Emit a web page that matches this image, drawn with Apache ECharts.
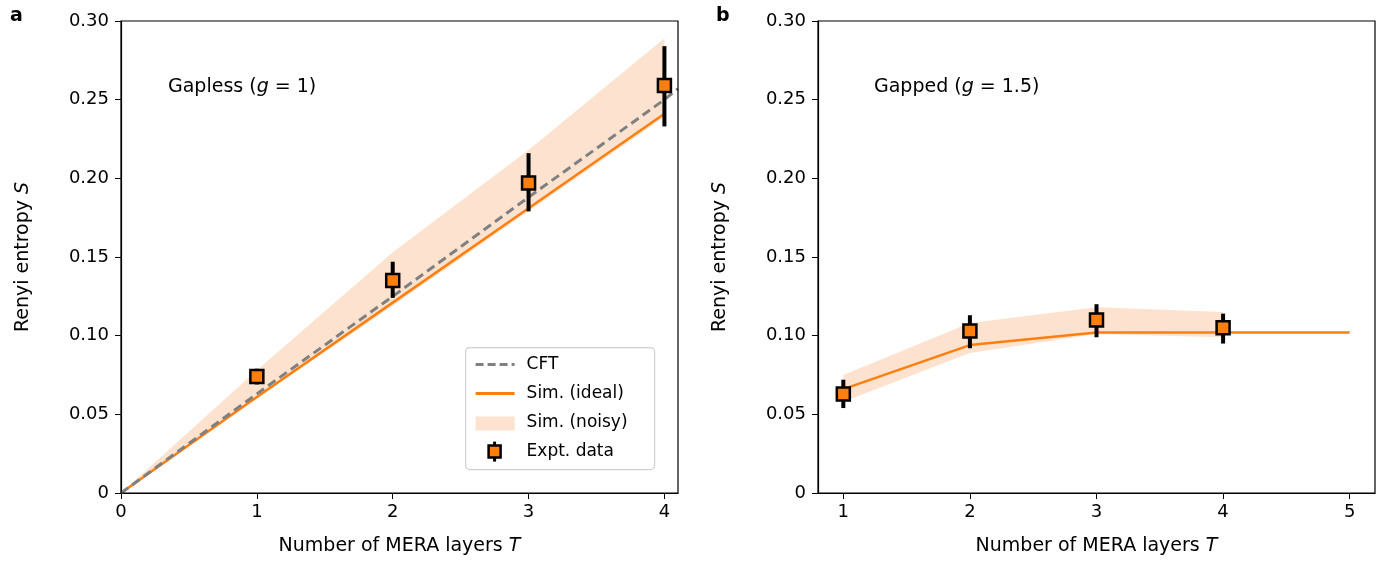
<!DOCTYPE html>
<html><head><meta charset="utf-8">
<script src="https://cdn.jsdelivr.net/npm/echarts@6/dist/echarts.min.js"></script>
<style>html,body{margin:0;background:#fff}#chart{width:1385px;height:573px}</style>
</head><body><div id="chart"></div>
<script>
// 面板 a：无能隙
var cftA = [[0, 0], [1, 0.063], [2, 0.125], [3, 0.188], [4, 0.250], [4.1, 0.257]];
var idealA = [[0, 0], [1, 0.061], [2, 0.121], [3, 0.181], [4, 0.241]];
var bandLowA = [[0, 0], [1, 0.060], [2, 0.119], [3, 0.179], [4, 0.239]];
var bandHighA = [[0, 0], [1, 0.078], [2, 0.153], [3, 0.218], [4, 0.289]];
var exptA = [[1, 0.074, 0.069, 0.079], [2, 0.135, 0.124, 0.147], [3, 0.197, 0.179, 0.216], [4, 0.259, 0.233, 0.284]];
// 面板 b：有能隙
var idealB = [[1, 0.066], [2, 0.094], [3, 0.102], [4, 0.102], [5, 0.102]];
var bandLowB = [[1, 0.058], [2, 0.089], [3, 0.101], [4, 0.099]];
var bandHighB = [[1, 0.075], [2, 0.108], [3, 0.118], [4, 0.115]];
var exptB = [[1, 0.063, 0.054, 0.072], [2, 0.103, 0.092, 0.113], [3, 0.110, 0.099, 0.120], [4, 0.105, 0.095, 0.114]];

var orange = '#ff7f0e', band = '#fde3cf';
var font = 'DejaVu Sans';
var myChart = echarts.init(document.getElementById('chart'));

// 噪声带：用多边形画出上下边界之间的区域
function bandSeries(low, high, idx) {
  return {
    type: 'custom', xAxisIndex: idx, yAxisIndex: idx, data: [0], z: 1, silent: true,
    renderItem: function (params, api) {
      var pts = low.map(function (p) { return api.coord(p); });
      high.slice().reverse().forEach(function (p) { pts.push(api.coord(p)); });
      return {type: 'polygon', shape: {points: pts}, style: {fill: band}};
    }
  };
}
function errSeries(data, idx) {
  return {
    type: 'custom', xAxisIndex: idx, yAxisIndex: idx, data: data, z: 5,
    renderItem: function (params, api) {
      var a = api.coord([api.value(0), api.value(2)]);
      var b = api.coord([api.value(0), api.value(3)]);
      return {type: 'line', shape: {x1: a[0], y1: a[1], x2: b[0], y2: b[1]},
              style: {stroke: '#000', lineWidth: 4}};
    }
  };
}
function ptSeries(data, idx) {
  return {type: 'scatter', xAxisIndex: idx, yAxisIndex: idx, z: 6,
    data: data.map(function (d) { return [d[0], d[1]]; }),
    symbol: 'rect', symbolSize: 13,
    itemStyle: {color: orange, borderColor: '#000', borderWidth: 2.5, opacity: 1}};
}
var rich = {n: {fontFamily: font, fontSize: 19, color: '#000'},
            i: {fontFamily: font, fontSize: 19, fontStyle: 'italic', color: '#000'}};
function xAxis(idx, min, max, ticks) {
  return {type: 'value', gridIndex: idx, min: min, max: max,
    name: '{n|Number of MERA layers }{i|T}', nameLocation: 'middle', nameGap: 44,
    nameTextStyle: {rich: rich},
    axisLine: {onZero: false, lineStyle: {color: '#000', width: 1.2}},
    axisTick: {length: 6, inside: false, customValues: ticks, lineStyle: {color: '#000'}},
    axisLabel: {customValues: ticks, fontFamily: font, fontSize: 18, color: '#000', margin: 10},
    splitLine: {show: false}};
}
function yAxis(idx) {
  return {type: 'value', gridIndex: idx, min: 0, max: 0.30, interval: 0.05,
    name: '{n|Renyi entropy }{i|S}', nameLocation: 'middle', nameGap: 88,
    nameTextStyle: {rich: rich},
    axisLine: {show: true, lineStyle: {color: '#000', width: 1.2}},
    axisTick: {length: 6, lineStyle: {color: '#000'}},
    axisLabel: {fontFamily: font, fontSize: 18, color: '#000', margin: 12,
      formatter: function (v) { return v === 0 ? '0' : v.toFixed(2); }},
    splitLine: {show: false}};
}
var boxStyle = {show: true, borderColor: '#000', borderWidth: 1.2, backgroundColor: 'transparent', z: 10};

var lx = 465, ly = 347;
var txt = {fontFamily: font, fontSize: 17, fill: '#000'};
var option = {
  animation: false,
  grid: [
    Object.assign({left: 121, top: 21, width: 557, height: 472}, boxStyle),
    Object.assign({left: 818, top: 21, width: 557, height: 472}, boxStyle)
  ],
  xAxis: [xAxis(0, 0, 4.1, [0, 1, 2, 3, 4]), xAxis(1, 0.8, 5.2, [1, 2, 3, 4, 5])],
  yAxis: [yAxis(0), yAxis(1)],
  graphic: [
    {type: 'text', left: 10, top: 7, z: 100, style: {text: 'a', font: 'bold 19px "DejaVu Sans"', fill: '#000'}},
    {type: 'text', left: 716, top: 7, z: 100, style: {text: 'b', font: 'bold 19px "DejaVu Sans"', fill: '#000'}},
    {type: 'text', left: 168, top: 78, z: 100, style: {rich: rich, text: '{n|Gapless (}{i|g}{n| = 1)}'}},
    {type: 'text', left: 874, top: 78, z: 100, style: {rich: rich, text: '{n|Gapped (}{i|g}{n| = 1.5)}'}},
    {type: 'group', left: lx, top: ly, z: 100, children: [
      {type: 'rect', shape: {x: 0, y: 0, width: 189, height: 122, r: 4}, style: {fill: 'rgba(255,255,255,0.8)', stroke: '#d0d0d0', lineWidth: 1.2}},
      {type: 'line', shape: {x1: 10, y1: 17, x2: 49, y2: 17}, style: {stroke: '#808080', lineWidth: 3, lineDash: [8, 4]}},
      {type: 'line', shape: {x1: 10, y1: 46, x2: 49, y2: 46}, style: {stroke: orange, lineWidth: 3}},
      {type: 'rect', shape: {x: 10, y: 69, width: 39, height: 14}, style: {fill: band}},
      {type: 'line', shape: {x1: 29, y1: 94, x2: 29, y2: 114}, style: {stroke: '#000', lineWidth: 3}},
      {type: 'rect', shape: {x: 23, y: 98, width: 12, height: 12}, style: {fill: orange, stroke: '#000', lineWidth: 2.5}},
      {type: 'text', x: 61, y: 8, style: Object.assign({text: 'CFT'}, txt)},
      {type: 'text', x: 61, y: 37, style: Object.assign({text: 'Sim. (ideal)'}, txt)},
      {type: 'text', x: 61, y: 66, style: Object.assign({text: 'Sim. (noisy)'}, txt)},
      {type: 'text', x: 61, y: 95, style: Object.assign({text: 'Expt. data'}, txt)}
    ]}
  ],
  series: [
    bandSeries(bandLowA, bandHighA, 0),
    {type: 'line', xAxisIndex: 0, yAxisIndex: 0, data: idealA, symbol: 'none', z: 3, lineStyle: {color: orange, width: 2.5}},
    {type: 'line', xAxisIndex: 0, yAxisIndex: 0, data: cftA, symbol: 'none', z: 4, lineStyle: {color: '#808080', width: 3, type: [9, 5]}},
    errSeries(exptA, 0), ptSeries(exptA, 0),
    bandSeries(bandLowB, bandHighB, 1),
    {type: 'line', xAxisIndex: 1, yAxisIndex: 1, data: idealB, symbol: 'none', z: 3, lineStyle: {color: orange, width: 2.5}},
    errSeries(exptB, 1), ptSeries(exptB, 1)
  ]
};
myChart.setOption(option);
</script></body></html>
